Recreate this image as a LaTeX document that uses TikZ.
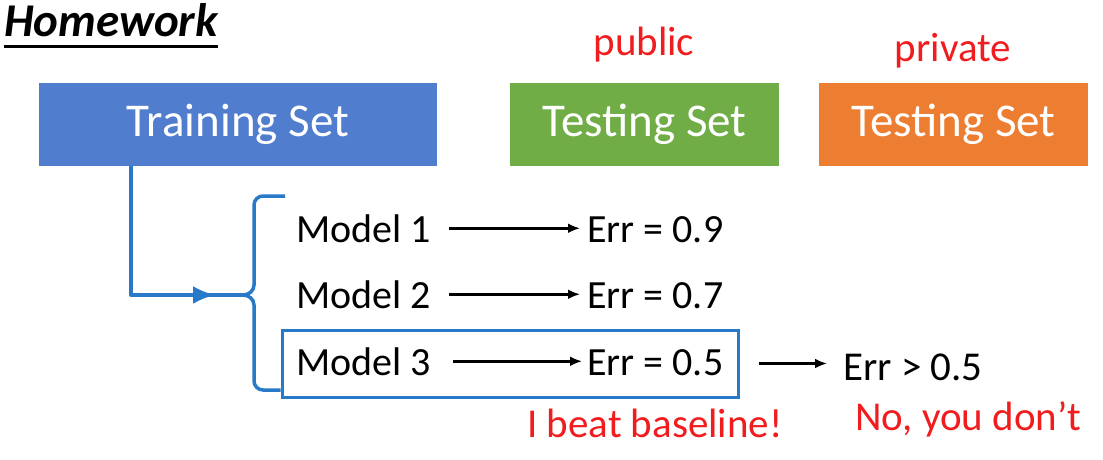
\documentclass[tikz,border=0pt]{standalone}
\usepackage{fontspec}
\setmainfont{Carlito}
\usetikzlibrary{arrows.meta}
\definecolor{trainblue}{RGB}{80,125,205}
\definecolor{testgreen}{HTML}{70AD47}
\definecolor{testorange}{HTML}{ED7D31}
\definecolor{lineblue}{RGB}{40,122,200}
\definecolor{note}{RGB}{240,28,30}
\begin{document}
\begin{tikzpicture}[x=1pt,y=-1pt,
  setbox/.style={inner sep=0pt, minimum height=83pt, text=white,
    font=\fontsize{47}{52}\selectfont},
  body/.style={inner sep=0pt, anchor=base west, font=\fontsize{40}{46}\selectfont},
  remark/.style={inner sep=0pt, anchor=base west, text=note, font=\fontsize{41}{46}\selectfont},
  arr/.style={line width=2.6pt, -{Latex[length=12pt,width=10pt]}},
  bluepath/.style={draw=lineblue, line width=3.5pt, line join=round}]
\useasboundingbox (0,0) rectangle (1103,460);

% title
\node[inner sep=0pt, anchor=base west, font=\fontsize{47}{52}\selectfont\bfseries\itshape] (title) at (4,37) {Homework};
\draw[line width=3pt] (title.base west |- 0,47) -- (title.base east |- 0,47);

% the three data sets
\node[setbox, fill=trainblue, minimum width=398pt] (train) at (238,124.5) {\raisebox{-4pt}{Training Set}};
\node[setbox, fill=testgreen, minimum width=269pt] (pub) at (644.5,124.5) {\raisebox{-4pt}{Testing Set}};
\node[setbox, fill=testorange, minimum width=269pt] (priv) at (953.5,124.5) {\raisebox{-4pt}{Testing Set}};
\node[remark, anchor=base] (publbl) at (644,56) {public};
\node[remark, anchor=base] (privlbl) at (953,62) {private};

% models and their errors
\node[body] (m1) at (296,242) {Model 1};
\node[body] (e1) at (587,242) {Err = 0.9};
\node[body] (m2) at (296,308) {Model 2};
\node[body] (e2) at (587,308) {Err = 0.7};
\node[body] (m3) at (296,375) {Model 3};
\node[body] (e3) at (587,375) {Err = 0.5};
\node[body, font=\fontsize{41}{46}\selectfont] (gt) at (843,380) {Err > 0.5};

\draw[arr, shorten <=18pt, shorten >=7pt] (m1.east) -- (m1.east -| e1.west);
\draw[arr, shorten <=18pt, shorten >=7pt] (m2.east) -- (m2.east -| e2.west);
\draw[arr, shorten <=22pt, shorten >=5pt] (m3.east) -- (m3.east -| e3.west);

% selected model
\node[draw=lineblue, line width=3pt, inner sep=0pt, minimum width=456pt, minimum height=67pt] (box3) at (510,363.5) {};
\draw[arr, shorten <=19pt, shorten >=16pt] (box3.east) -- (box3.east -| gt.west);

\node[remark] (beat) at (527,437) {I beat baseline!};
\node[remark] (nope) at (855,430) {No, you don’t};

% training set feeds every model
\coordinate (cusp) at (243,295);
\coordinate (tip) at (215,295);
\draw[bluepath] ([xshift=92pt]train.south west) |- (cusp);
\draw[bluepath, -{Latex[length=22pt,width=18pt]}] (cusp -| 160,0) -- (tip);
\draw[bluepath] (285,196) -- (263,196) to[out=180,in=90] (254,205) -- (254,285)
  to[out=-90,in=0] (cusp) to[out=0,in=90] (254,305) -- (254,381)
  to[out=-90,in=180] (263,390) -- (box3.south west |- 0,390);
\end{tikzpicture}
\end{document}
